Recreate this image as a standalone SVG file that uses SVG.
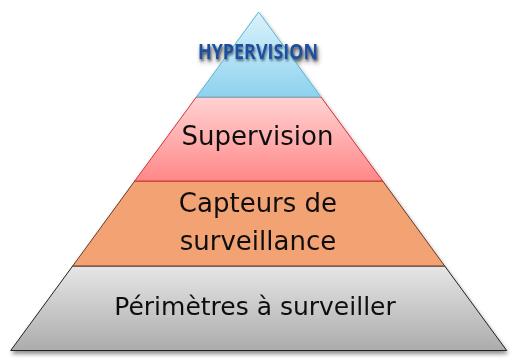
<svg xmlns="http://www.w3.org/2000/svg" width="513" height="362" viewBox="0 0 513 362">
  <defs>
    <linearGradient id="gBlue" x1="0" y1="0" x2="0" y2="1">
      <stop offset="0" stop-color="#dcf2fc"/>
      <stop offset="1" stop-color="#8dd2ee"/>
    </linearGradient>
    <linearGradient id="gRed" x1="0" y1="0" x2="0" y2="1">
      <stop offset="0" stop-color="#ffd3d3"/>
      <stop offset="1" stop-color="#ff8888"/>
    </linearGradient>
    <linearGradient id="gGray" x1="0" y1="0" x2="0" y2="1">
      <stop offset="0" stop-color="#e6e6e6"/>
      <stop offset="1" stop-color="#acacac"/>
    </linearGradient>
    <filter id="shadow" x="-10%" y="-10%" width="120%" height="130%">
      <feGaussianBlur in="SourceAlpha" stdDeviation="2"/>
      <feOffset dx="1" dy="3" result="b"/>
      <feComponentTransfer><feFuncA type="linear" slope="0.45"/></feComponentTransfer>
      <feMerge><feMergeNode/><feMergeNode in="SourceGraphic"/></feMerge>
    </filter>
    <filter id="txtShadow" x="-10%" y="-30%" width="120%" height="160%">
      <feGaussianBlur in="SourceAlpha" stdDeviation="1.2"/>
      <feOffset dx="1" dy="2"/>
      <feComponentTransfer><feFuncA type="linear" slope="0.5"/></feComponentTransfer>
      <feMerge><feMergeNode/><feMergeNode in="SourceGraphic"/></feMerge>
    </filter>
  </defs>
  <style>
    .lbl { font-family: "DejaVu Sans", Verdana, sans-serif; font-size: 26px; fill: #111; text-anchor: middle; }
    .top { font-family: "Open Sans", "DejaVu Sans", sans-serif; font-weight: bold; font-size: 21px; fill: #1f4f9e; text-anchor: middle; }
  </style>
  <rect width="513" height="362" fill="#ffffff"/>
  <g filter="url(#shadow)">
    <g id="level-perimetres">
      <polygon points="72.7,266 444.7,266 506.7,350.5 10.7,350.5" fill="url(#gGray)" stroke="#222" stroke-width="1"/>
      <text class="lbl" x="255" y="315" style="font-size:25px">Périmètres à surveiller</text>
    </g>
    <g id="level-capteurs">
      <polygon points="134.7,181 382.7,181 444.7,266 72.7,266" fill="#f2a273" stroke="#6a3a2a" stroke-width="1"/>
      <text class="lbl" x="258" y="211.5">Capteurs de</text>
      <text class="lbl" x="258" y="249.5">surveillance</text>
    </g>
    <g id="level-supervision">
      <polygon points="196.4,97 321,97 382.7,181 134.7,181" fill="url(#gRed)" stroke="#d8303a" stroke-width="1"/>
      <text class="lbl" x="257.5" y="145">Supervision</text>
    </g>
    <g id="level-hypervision">
      <polygon points="258.7,12 321,97 196.4,97" fill="url(#gBlue)" stroke="#5bb5d2" stroke-width="1"/>
      <text class="top" x="258" y="59" textLength="120" lengthAdjust="spacingAndGlyphs" filter="url(#txtShadow)">HYPERVISION</text>
    </g>
  </g>
  <g id="connectors"/>
</svg>
